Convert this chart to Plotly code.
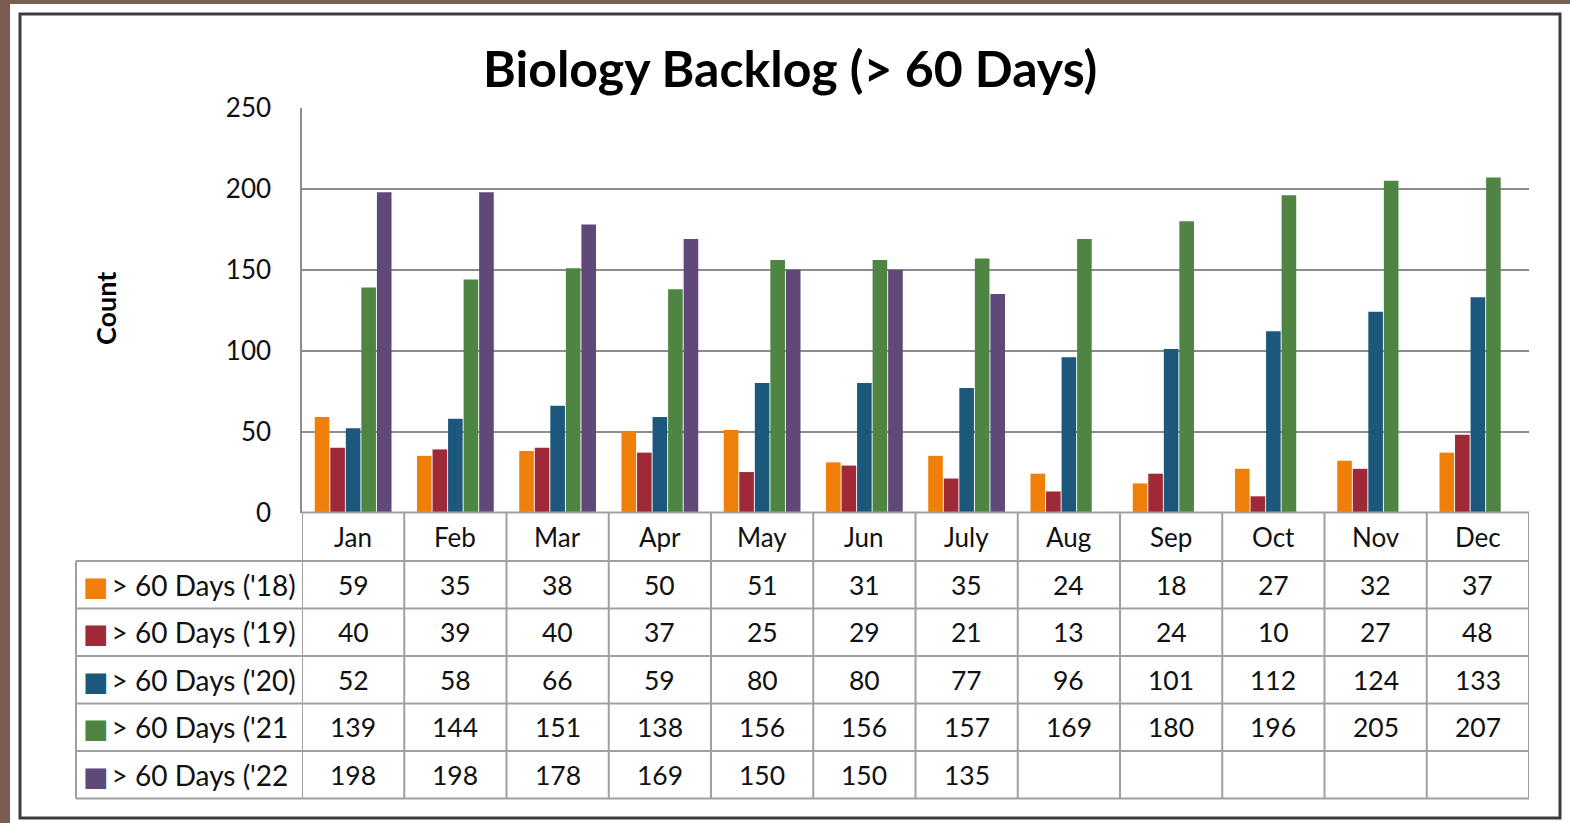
import plotly.graph_objects as go

months = ["Jan", "Feb", "Mar", "Apr", "May", "Jun", "July", "Aug", "Sep", "Oct", "Nov", "Dec"]
series_names = ["> 60 Days ('18)", "> 60 Days ('19)", "> 60 Days ('20)", "> 60 Days ('21", "> 60 Days ('22"]
colors = ["#F07F09", "#9F2936", "#1B587C", "#4E8542", "#604878"]

v18 = [59, 35, 38, 50, 51, 31, 35, 24, 18, 27, 32, 37]
v19 = [40, 39, 40, 37, 25, 29, 21, 13, 24, 10, 27, 48]
v20 = [52, 58, 66, 59, 80, 80, 77, 96, 101, 112, 124, 133]
v21 = [139, 144, 151, 138, 156, 156, 157, 169, 180, 196, 205, 207]
v22 = [198, 198, 178, 169, 150, 150, 135, None, None, None, None, None]
all_values = [v18, v19, v20, v21, v22]

W, H = 1570, 823
FONT = "Lato"
TXT = "#111111"
GRID = "#A0A0A0"

def px(x):
    return x / W

def py(y):
    return 1 - y / H

# layout geometry (pixels)
PLOT_L, PLOT_R, PLOT_T, PLOT_B = 302, 1529, 108, 512.5
TABLE_L = 76
HEADER_H = 48.5
ROW_H = 47.5

fig = go.Figure()
for name, vals, col in zip(series_names, all_values, colors):
    fig.add_trace(go.Bar(x=months, y=vals, name=name, marker=dict(color=col, line=dict(width=0)),
                         showlegend=False))

annotations = []
shapes = []

# frame
shapes += [
    dict(type="rect", xref="paper", yref="paper", x0=0, x1=1, y0=py(4), y1=1,
         fillcolor="#7A5C51", line=dict(width=0), layer="below"),
    dict(type="rect", xref="paper", yref="paper", x0=0, x1=px(10), y0=0, y1=1,
         fillcolor="#7A5C51", line=dict(width=0), layer="below"),
    dict(type="rect", xref="paper", yref="paper", x0=px(20), x1=px(1560), y0=py(818), y1=py(14),
         fillcolor="rgba(0,0,0,0)", line=dict(color="#3C3C3C", width=3)),
]

# data table: row boundaries
n_rows = len(series_names)
row_edges = [PLOT_B, PLOT_B + HEADER_H] + [PLOT_B + HEADER_H + ROW_H * (k + 1) for k in range(n_rows)]
table_bottom = row_edges[-1]

# horizontal table lines
shapes.append(dict(type="line", xref="paper", yref="paper", x0=px(PLOT_L), x1=px(PLOT_R),
                   y0=py(row_edges[0]), y1=py(row_edges[0]), line=dict(color=GRID, width=2)))
for e in row_edges[1:]:
    shapes.append(dict(type="line", xref="paper", yref="paper", x0=px(TABLE_L), x1=px(PLOT_R),
                       y0=py(e), y1=py(e), line=dict(color=GRID, width=2)))
# vertical table lines at category boundaries
for i in range(len(months) + 1):
    shapes.append(dict(type="line", xref="x", yref="paper", x0=i - 0.5, x1=i - 0.5,
                       y0=py(row_edges[0]), y1=py(table_bottom), line=dict(color=GRID, width=2)))
shapes.append(dict(type="line", xref="paper", yref="paper", x0=px(TABLE_L), x1=px(TABLE_L),
                   y0=py(row_edges[1]), y1=py(table_bottom), line=dict(color=GRID, width=2)))

# header (months)
hdr_c = (row_edges[0] + row_edges[1]) / 2
for m in months:
    annotations.append(dict(text=m, xref="x", yref="paper", x=m, y=py(hdr_c),
                            xanchor="center", yanchor="middle", showarrow=False,
                            font=dict(family=FONT, size=26, color=TXT)))
# rows
for k, (name, vals, col) in enumerate(zip(series_names, all_values, colors)):
    rc = (row_edges[k + 1] + row_edges[k + 2]) / 2
    annotations.append(dict(text=f"<span style='color:{col};font-family:DejaVu Sans;font-size:27px'>■</span>"
                                 f"<span style='font-size:12px'> </span>{name}",
                            xref="paper", yref="paper", x=px(TABLE_L + 5), y=py(rc),
                            xanchor="left", yanchor="middle", showarrow=False,
                            font=dict(family=FONT, size=28, color=TXT)))
    for m, v in zip(months, vals):
        if v is None:
            continue
        annotations.append(dict(text=str(v), xref="x", yref="paper", x=m, y=py(rc),
                                xanchor="center", yanchor="middle", showarrow=False,
                                font=dict(family=FONT, size=26.5, color=TXT)))

# titles
annotations += [
    dict(text="<b>Biology Backlog (> 60 Days)</b>", xref="paper", yref="paper",
         x=px(790), y=py(68), xanchor="center", yanchor="middle", showarrow=False,
         font=dict(family=FONT, size=50, color="#000000")),
    dict(text="<b>Count</b>", xref="paper", yref="paper", textangle=-90,
         x=px(105), y=py(309), xanchor="center", yanchor="middle", showarrow=False,
         font=dict(family=FONT, size=27, color="#000000")),
]

fig.update_layout(
    width=W, height=H,
    margin=dict(l=0, r=0, t=0, b=0, autoexpand=False),
    paper_bgcolor="white",
    plot_bgcolor="white",
    barmode="group",
    bargap=0.24,
    bargroupgap=0.06,
    font=dict(family=FONT, color=TXT),
    xaxis=dict(domain=[px(PLOT_L), px(PLOT_R)], range=[-0.5, len(months) - 0.5],
               showticklabels=False, ticks="", automargin=False,
               showgrid=False, zeroline=False, showline=False),
    yaxis=dict(domain=[py(PLOT_B), py(PLOT_T)], range=[0, 250], dtick=50, automargin=False,
               showgrid=True, gridcolor="#8C8C8C", gridwidth=1.5,
               zeroline=False, showline=True, linecolor="#8C8C8C", linewidth=1.5,
               ticks="", ticklabelstandoff=24,
               tickfont=dict(family=FONT, size=26, color=TXT)),
    annotations=annotations,
    shapes=shapes,
)

post = ("document.body.style.margin='0';document.body.style.padding='0';"
        "var d=document.getElementById('{plot_id}');d.style.position='fixed';"
        "d.style.left='0px';d.style.top='0px';")
fig.write_html("out.html", post_script=post, config={"displayModeBar": False})
